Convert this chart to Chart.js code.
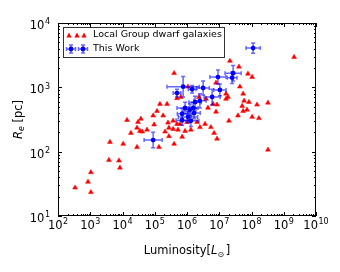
<!DOCTYPE html>
<html><head><meta charset="utf-8">
<script src="https://cdn.jsdelivr.net/npm/chart.js@4.4.1/dist/chart.umd.min.js"></script>
<style>html,body{margin:0;padding:0;background:#fff}canvas{display:block}</style>
</head><body>
<canvas id="c" width="340" height="272"></canvas>
<script>
// ---- tick labels (exponents of 10) ----
const xTickExponents = [2,3,4,5,6,7,8,9,10];
const yTickExponents = [1,2,3,4];
const legendLabels = ['Local Group dwarf galaxies', 'This Work'];

// ---- Local Group dwarf galaxies: log10(L/Lsun), log10(Re/pc) ----
const lgLogLum = [2.53,2.93,3.02,3.02,3.58,3.89,3.92,3.61,4.02,4.45,4.26,4.14,4.45,4.48,4.57,4.54,4.61,4.76,5.13,4.98,
  4.95,5.07,5.26,5.16,5.38,5.60,5.69,5.81,6.03,5.32,5.44,5.57,5.57,5.72,5.69,5.78,6.00,5.94,5.60,5.85,
  6.12,6.37,6.65,6.93,6.31,6.40,6.56,6.74,6.84,6.93,6.59,6.81,6.90,6.90,7.33,7.61,7.89,8.02,7.64,7.21,
  7.27,7.21,7.74,7.71,7.77,7.92,8.17,8.51,7.74,7.86,7.58,8.02,8.23,7.30,8.51,9.32,5.44,5.41];
const lgLogRe = [1.44,1.53,1.37,1.68,1.87,1.86,1.75,2.15,2.12,2.07,2.29,2.49,2.37,2.46,2.51,2.32,2.31,2.34,2.07,2.42,
  2.56,2.63,2.56,2.74,2.74,3.22,2.83,2.85,3.01,2.31,2.37,2.35,2.48,2.34,2.43,2.43,2.46,2.32,2.12,2.23,
  2.34,2.85,2.68,2.73,2.46,2.38,2.43,2.38,2.29,2.20,2.82,2.74,2.62,3.07,3.41,3.32,3.21,3.16,3.01,2.90,
  2.85,2.82,2.90,2.71,2.79,2.77,2.73,2.76,2.63,2.65,2.56,2.54,2.52,2.48,2.03,3.47,2.24,2.45];

// ---- This Work: log10 values and symmetric errors in dex ----
const twLogLum = [8.05,6.96,7.43,7.40,6.50,7.02,6.78,6.40,5.88,5.69,6.16,6.25,5.94,6.09,6.19,6.22,5.85,6.03,5.85,6.12,4.95];
const twLogRe  = [3.61,3.16,3.22,3.15,2.99,2.96,2.85,2.79,3.01,2.91,2.97,2.77,2.68,2.65,2.68,2.60,2.59,2.54,2.49,2.48,2.18];
const twErrLum = [0.22,0.25,0.25,0.15,0.19,0.19,0.25,0.19,0.50,0.12,0.12,0.19,0.25,0.19,0.15,0.19,0.15,0.30,0.19,0.25,0.28];
const twErrRe  = [0.08,0.11,0.12,0.09,0.11,0.09,0.12,0.11,0.16,0.06,0.06,0.09,0.09,0.09,0.09,0.09,0.08,0.09,0.08,0.09,0.12];

const F = '"DejaVu Sans", sans-serif';
const lgPoints = lgLogLum.map((v,i)=>({x:10**v, y:10**lgLogRe[i]}));
const twPoints = twLogLum.map((v,i)=>({x:10**v, y:10**twLogRe[i]}));

function supText(ctx, base, exp, x, y, align, size){
  ctx.font = size+'px '+F; const wb = ctx.measureText(base).width;
  const es = Math.round(size*0.72);
  ctx.font = es+'px '+F; const we = ctx.measureText(exp).width;
  const w = wb + we + 0.5;
  const x0 = align==='center' ? x - w/2 : (align==='right' ? x - w : x);
  ctx.textAlign='left'; ctx.textBaseline='alphabetic'; ctx.fillStyle='#000';
  ctx.font = size+'px '+F; ctx.fillText(base, x0, y);
  ctx.font = es+'px '+F; ctx.fillText(exp, x0+wb+0.5, y - size*0.42);
}

function drawErr(ctx, i, xScale, yScale){
  const px = xScale.getPixelForValue(10**twLogLum[i]);
  const py = yScale.getPixelForValue(10**twLogRe[i]);
  const x1 = xScale.getPixelForValue(10**(twLogLum[i]-twErrLum[i]));
  const x2 = xScale.getPixelForValue(10**(twLogLum[i]+twErrLum[i]));
  const y1 = yScale.getPixelForValue(10**(twLogRe[i]-twErrRe[i]));
  const y2 = yScale.getPixelForValue(10**(twLogRe[i]+twErrRe[i]));
  ctx.beginPath();
  ctx.moveTo(x1,py); ctx.lineTo(x2,py);
  ctx.moveTo(px,y1); ctx.lineTo(px,y2);
  ctx.moveTo(x1,py-2); ctx.lineTo(x1,py+2);
  ctx.moveTo(x2,py-2); ctx.lineTo(x2,py+2);
  ctx.moveTo(px-2,y1); ctx.lineTo(px+2,y1);
  ctx.moveTo(px-2,y2); ctx.lineTo(px+2,y2);
  ctx.stroke();
}

const deco = {
  id:'deco',
  beforeDatasetDraw(chart, args){
    if (args.index !== 1) return;
    const ctx = chart.ctx, a = chart.chartArea;
    ctx.save();
    ctx.beginPath(); ctx.rect(a.left,a.top,a.right-a.left,a.bottom-a.top); ctx.clip();
    ctx.strokeStyle='rgba(0,0,255,0.6)'; ctx.lineWidth=1.5;
    for (let i=0;i<twLogLum.length;i++) drawErr(ctx,i,chart.scales.x,chart.scales.y);
    ctx.restore();
  },
  afterDraw(chart){
    const ctx = chart.ctx, a = chart.chartArea, xs = chart.scales.x, ys = chart.scales.y;
    ctx.save();
    // frame
    ctx.strokeStyle='#000'; ctx.lineWidth=1;
    ctx.strokeRect(Math.round(a.left)+0.5, Math.round(a.top)+0.5, Math.round(a.right-a.left)-1, Math.round(a.bottom-a.top)-1);
    ctx.beginPath();
    for (let k=xTickExponents[0]; k<=xTickExponents[xTickExponents.length-1]; k++){
      for (let m=1;m<10;m++){
        if (k===xTickExponents[xTickExponents.length-1] && m>1) break;
        const px = Math.round(xs.getPixelForValue(m*10**k))+0.5;
        const L = m===1?4:2;
        ctx.moveTo(px,a.bottom); ctx.lineTo(px,a.bottom-L);
        ctx.moveTo(px,a.top); ctx.lineTo(px,a.top+L);
      }
    }
    for (let k=yTickExponents[0]; k<=yTickExponents[yTickExponents.length-1]; k++){
      for (let m=1;m<10;m++){
        if (k===yTickExponents[yTickExponents.length-1] && m>1) break;
        const py = Math.round(ys.getPixelForValue(m*10**k))+0.5;
        const L = m===1?4:2;
        ctx.moveTo(a.left,py); ctx.lineTo(a.left+L,py);
        ctx.moveTo(a.right,py); ctx.lineTo(a.right-L,py);
      }
    }
    ctx.stroke();
    // tick labels
    xTickExponents.forEach(k=>{
      supText(ctx,'10',String(k),xs.getPixelForValue(10**k),229,'center',11.5);
    });
    yTickExponents.forEach(k=>{
      supText(ctx,'10',String(k),50,ys.getPixelForValue(10**k)+6,'right',11.5);
    });
    // x title
    ctx.fillStyle='#000'; ctx.textBaseline='alphabetic'; ctx.textAlign='left';
    const parts = [['Luminosity[','11.5px '+F,0],['L','italic 11.5px '+F,0],['\u2299','8px '+F,3],[']','11.5px '+F,0]];
    let tw=0; parts.forEach(p=>{ctx.font=p[1]; tw+=ctx.measureText(p[0]).width+(p[0]==='\u2299'?1.5:0);});
    let xx=(a.left+a.right)/2 - tw/2;
    parts.forEach(p=>{ctx.font=p[1]; ctx.fillText(p[0],xx,254+p[2]); xx+=ctx.measureText(p[0]).width+(p[0]==='\u2299'?1.5:0);});
    // y title
    ctx.save();
    ctx.translate(22,(a.top+a.bottom)/2); ctx.rotate(-Math.PI/2);
    const yp = [['R','italic 11.5px '+F,0],['e','italic 8px '+F,2],[' [pc]','11.5px '+F,0]];
    tw=0; yp.forEach(p=>{ctx.font=p[1]; tw+=ctx.measureText(p[0]).width;});
    xx=-tw/2;
    yp.forEach(p=>{ctx.font=p[1]; ctx.fillText(p[0],xx,p[2]); xx+=ctx.measureText(p[0]).width;});
    ctx.restore();
    // legend
    const lx=63.5, ly=27.5, lw=161, lh=30;
    ctx.fillStyle='#fff'; ctx.fillRect(lx,ly,lw,lh);
    ctx.strokeStyle='#333'; ctx.lineWidth=1; ctx.strokeRect(lx,ly,lw,lh);
    ctx.fillStyle='#ff0000';
    [69,77,84].forEach(cx=>{
      ctx.beginPath(); ctx.moveTo(cx,32.6); ctx.lineTo(cx+2.6,37.4); ctx.lineTo(cx-2.6,37.4); ctx.closePath(); ctx.fill();
    });
    [71,83].forEach(cx=>{
      ctx.strokeStyle='rgba(0,0,255,0.6)'; ctx.lineWidth=1.5;
      ctx.beginPath();
      ctx.moveTo(cx-4.5,49); ctx.lineTo(cx+4.5,49);
      ctx.moveTo(cx,45); ctx.lineTo(cx,53);
      ctx.moveTo(cx-4.5,47); ctx.lineTo(cx-4.5,51);
      ctx.moveTo(cx+4.5,47); ctx.lineTo(cx+4.5,51);
      ctx.moveTo(cx-2,45); ctx.lineTo(cx+2,45);
      ctx.moveTo(cx-2,53); ctx.lineTo(cx+2,53);
      ctx.stroke();
      ctx.fillStyle='#0000ff'; ctx.beginPath(); ctx.arc(cx,49,2.4,0,Math.PI*2); ctx.fill();
    });
    ctx.fillStyle='#000'; ctx.font='9.5px '+F; ctx.textAlign='left'; ctx.textBaseline='middle';
    ctx.fillText(legendLabels[0],93,35);
    ctx.fillText(legendLabels[1],93,49);
    ctx.restore();
  }
};

new Chart(document.getElementById('c'), {
  type:'scatter',
  data:{datasets:[
    {label:legendLabels[0], data:lgPoints, pointStyle:'triangle', pointRadius:2.8, pointHoverRadius:2.8,
     backgroundColor:'#ff0000', borderColor:'#ff0000', borderWidth:0.5, order:2},
    {label:legendLabels[1], data:twPoints, pointStyle:'circle', pointRadius:2.4, pointHoverRadius:2.4,
     backgroundColor:'#0000ff', borderColor:'#0000ff', borderWidth:0, order:1}
  ]},
  options:{
    responsive:false, animation:false, events:[],
    layout:{padding:{left:58, top:23, right:24, bottom:56}},
    plugins:{legend:{display:false}, tooltip:{enabled:false}},
    scales:{
      x:{type:'logarithmic', min:1e2, max:1e10, display:false},
      y:{type:'logarithmic', min:1e1, max:1e4, display:false}
    }
  },
  plugins:[deco]
});
</script>
</body></html>
